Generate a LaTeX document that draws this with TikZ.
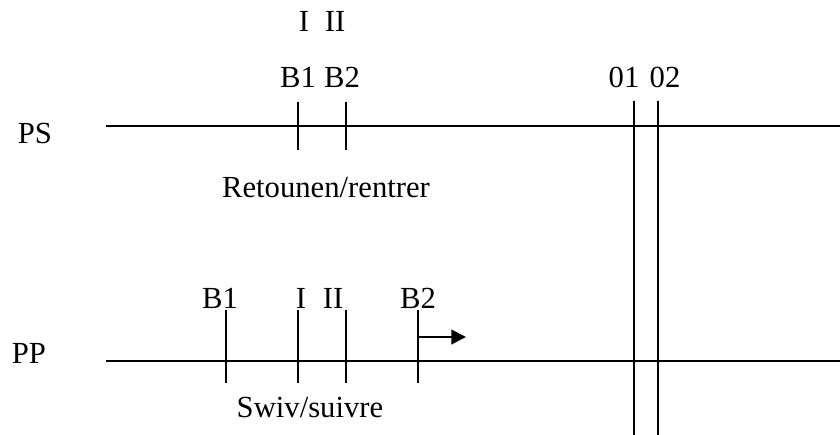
\documentclass[tikz,border=0pt]{standalone}
\usepackage{fontspec}
\setmainfont{Liberation Serif}
\usetikzlibrary{arrows.meta}
\begin{document}
\begin{tikzpicture}[x=0.75pt,y=-0.75pt,line width=1.5pt,
  lbl/.style={anchor=base,inner sep=0pt,font=\fontsize{23}{27}\selectfont}]
  \useasboundingbox (0,0) rectangle (840,435);
  \node[lbl] (ps) at (35,144) {PS};
  \node[lbl] (pp) at (29,363) {PP};
  \coordinate (psl) at (106,126);
  \coordinate (psr) at (840,126);
  \coordinate (ppl) at (106,361);
  \coordinate (ppr) at (840,361);
  \draw (psl) -- (psr);
  \draw (ppl) -- (ppr);
  \node[lbl] (sI) at (304,32) {I};
  \node[lbl] (sII) at (335,32) {II};
  \node[lbl] (sB1) at (298,88) {B1};
  \node[lbl] (sB2) at (342,88) {B2};
  \coordinate (sB1t) at (298,102);
  \coordinate (sB1b) at (298,150);
  \coordinate (sB2t) at (346,102);
  \coordinate (sB2b) at (346,150);
  \draw (sB1t) -- (sB1b);
  \draw (sB2t) -- (sB2b);
  \node[lbl] (ret) at (326,197) {Retounen/rentrer};
  \node[lbl] (o1) at (624,88) {01};
  \node[lbl] (o2) at (665,88) {02};
  \coordinate (o1t) at (634,101);
  \coordinate (o1b) at (634,435);
  \coordinate (o2t) at (658,101);
  \coordinate (o2b) at (658,435);
  \draw (o1t) -- (o1b);
  \draw (o2t) -- (o2b);
  \node[lbl] (pB1) at (220,308) {B1};
  \node[lbl] (pI) at (301,308) {I};
  \node[lbl] (pII) at (333,308) {II};
  \node[lbl] (pB2) at (418,308) {B2};
  \coordinate (pB1t) at (226,310);
  \coordinate (pB1b) at (226,383);
  \coordinate (pIt) at (298,310);
  \coordinate (pIb) at (298,383);
  \coordinate (pIIt) at (346,310);
  \coordinate (pIIb) at (346,383);
  \coordinate (pB2t) at (418,310);
  \coordinate (pB2b) at (418,383);
  \draw (pB1t) -- (pB1b);
  \draw (pIt) -- (pIb);
  \draw (pIIt) -- (pIIb);
  \draw (pB2t) -- (pB2b);
  \coordinate (arrs) at (418,337);
  \coordinate (arre) at (466,337);
  \draw[-{Triangle[length=11pt,width=11pt]}] (arrs) -- (arre);
  \node[lbl] (swiv) at (310,417) {Swiv/suivre};
\end{tikzpicture}
\end{document}
